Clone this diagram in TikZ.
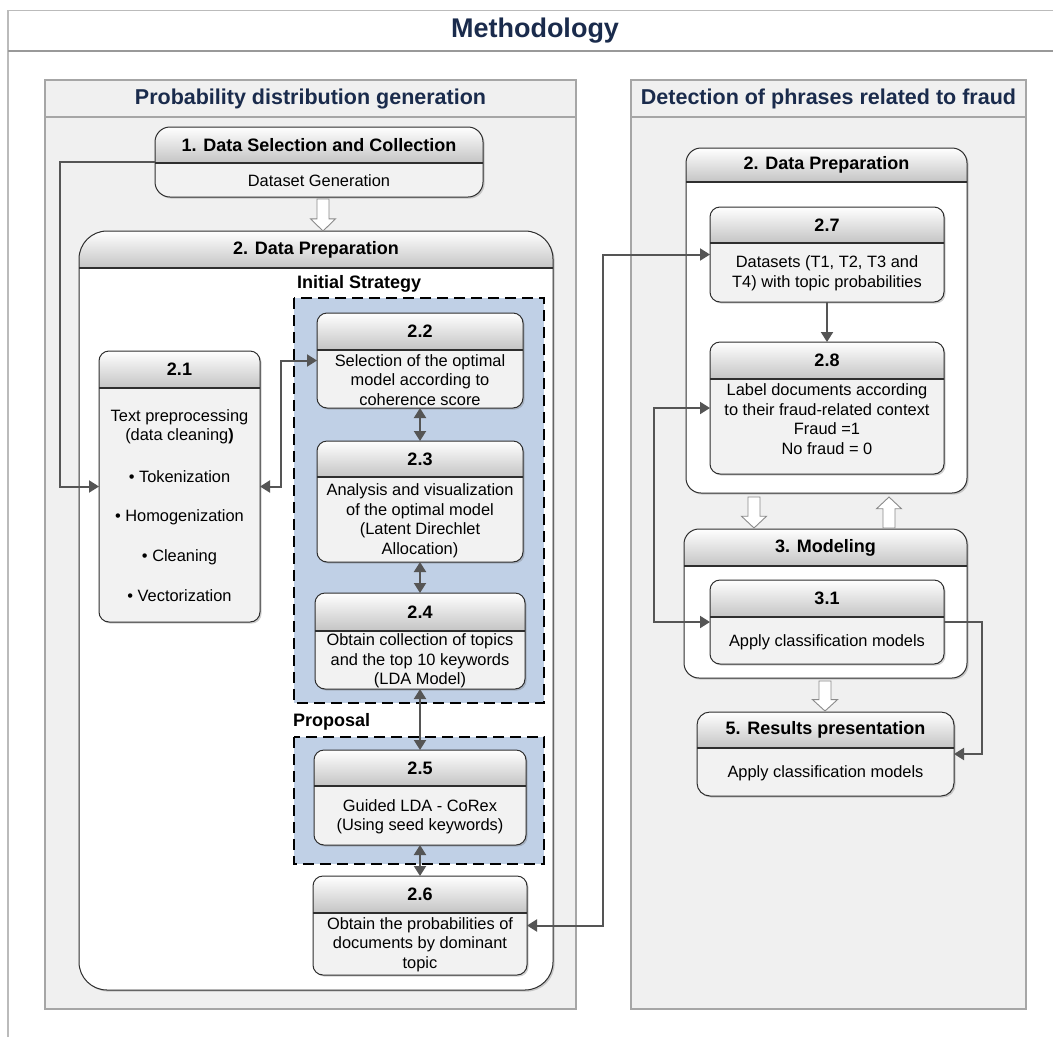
\documentclass[tikz,border=0pt]{standalone}
\usepackage{fontspec}
\setmainfont{Liberation Sans}
\usetikzlibrary{arrows.meta,shadows}
\definecolor{navy}{HTML}{1A2B4C}
\definecolor{panelbg}{HTML}{F0F0F0}
\definecolor{panelline}{HTML}{A6A6A6}
\definecolor{frameline}{HTML}{BBBBBB}
\definecolor{boxbody}{HTML}{F2F2F2}
\definecolor{boxline}{HTML}{2E2E2E}
\definecolor{hdrbot}{HTML}{C4C4C4}
\definecolor{stratblue}{HTML}{C0D0E6}
\definecolor{connc}{HTML}{555555}
\definecolor{blkline}{HTML}{8A8A8A}
\tikzset{
  bodytxt/.style={font=\fontsize{16.4}{19.5}\selectfont, align=center, inner sep=0pt},
  ttltxt/.style={font=\fontsize{18}{21}\selectfont\bfseries, inner sep=0pt},
  lbltxt/.style={font=\fontsize{18}{21}\selectfont\bfseries, inner sep=0pt, anchor=west},
  conn/.style={draw=connc, line width=2pt, -{Triangle[length=10pt,width=12pt]}},
  conntwo/.style={draw=connc, line width=2pt, {Triangle[length=10pt,width=12pt]}-{Triangle[length=10pt,width=12pt]}},
  blk/.style={draw=blkline, fill=white, line width=0.9pt, line join=miter},
  dashedregion/.style={draw=black, fill=stratblue, line width=1.8pt, dash pattern=on 11pt off 6pt},
  panel/.style={draw=panelline, fill=panelbg, line width=1.2pt},
  shd/.style={drop shadow={shadow xshift=1.6pt, shadow yshift=-1.6pt, opacity=0.3, fill=black!60}},
}
\newcommand\hbx[9]{%
  \node[shd, inner sep=0pt, outer sep=0pt, minimum width={(#4-#2)*1pt}, minimum height={(#5-#3)*1pt}, rounded corners=#7, fill=#8, draw=none] (#1) at ({(#2+#4)/2},{(#3+#5)/2}) {};
  \begin{scope}
    \clip[rounded corners=#7] (#2,#3) rectangle (#4,#5);
    \shade[top color=white, bottom color=hdrbot] (#2,#3) rectangle (#4,#6);
  \end{scope}
  \draw[boxline, line width=1pt, rounded corners=#7] (#2,#3) rectangle (#4,#5);
  \draw[boxline, line width=1.3pt] (#2,#6) -- (#4,#6);
  \node[ttltxt] (#1-t) at ({(#2+#4)/2},{(#3+#6)/2}) {#9};
}
\newcommand\blkarrow[3]{%
  \pgfmathsetmacro\bahpos{#2+(#3-#2)*0.62}%
  \draw[blk] ({#1-6},#2) -- ({#1+6},#2) -- ({#1+6},\bahpos) -- ({#1+12.5},\bahpos) -- (#1,#3) -- ({#1-12.5},\bahpos) -- ({#1-6},\bahpos) -- cycle;}
\begin{document}
\begin{tikzpicture}[x=1pt,y=-1pt]
\useasboundingbox (0,0) rectangle (1053,1037);
\fill[white] (0,0) rectangle (1053,1037);
% outer frame
\draw[frameline, line width=1.5pt] (8,1037) -- (8,10.5) -- (1053,10.5);
\draw[gray!80, line width=1.2pt] (8,51) -- (1053,51);
\node[font=\fontsize{27}{30}\selectfont\bfseries, text=navy, inner sep=0pt] (mtitle) at (535,31) {Methodology};
% panels
\draw[panel] (45,80) rectangle (576,1009);
\draw[panelline, line width=1.2pt] (45,117) -- (576,117);
\node[font=\fontsize{21.5}{24}\selectfont\bfseries, text=navy, inner sep=0pt] (ptitlea) at (310.5,99) {Probability distribution generation};
\draw[panel] (631,80) rectangle (1026,1009);
\draw[panelline, line width=1.2pt] (631,117) -- (1026,117);
\node[font=\fontsize{21.5}{24}\selectfont\bfseries, text=navy, inner sep=0pt] (ptitleb) at (828.5,99) {Detection of phrases related to fraud};
% containers
\hbx{b1}{155}{127}{483}{197}{163}{15pt}{boxbody}{1. Data Selection and Collection}
\hbx{dpl}{79}{231}{553}{990}{268}{28pt}{white}{2. Data Preparation}
\hbx{dpr}{686}{148}{967}{493}{182}{15pt}{white}{2. Data Preparation}
\hbx{mod}{684}{529}{967}{678}{566}{15pt}{white}{3. Modeling}
% strategy regions
\draw[dashedregion] (294,298) rectangle (544,703);
\draw[dashedregion] (294,737) rectangle (544,864);
\node[lbltxt] (lblinit) at (297,284) {Initial Strategy};
\node[lbltxt] (lblprop) at (293,722) {Proposal};
% boxes
\hbx{b21}{99}{351}{260}{622}{388}{10pt}{boxbody}{2.1}
\hbx{b22}{317}{313}{523}{408}{350}{10pt}{boxbody}{2.2}
\hbx{b23}{317}{441}{523}{562}{477}{10pt}{boxbody}{2.3}
\hbx{b24}{315}{593}{525}{689}{631}{10pt}{boxbody}{2.4}
\hbx{b25}{314}{750}{526}{845}{786}{10pt}{boxbody}{2.5}
\hbx{b26}{313}{876}{527}{975}{913}{10pt}{boxbody}{2.6}
\hbx{b27}{710}{207}{944}{302}{243}{10pt}{boxbody}{2.7}
\hbx{b28}{710}{342}{944}{474}{379}{10pt}{boxbody}{2.8}
\hbx{b31}{710}{580}{944}{664}{617}{10pt}{boxbody}{3.1}
\hbx{b5}{697}{712}{954}{796}{748}{13pt}{boxbody}{5. Results presentation}
% body texts
\node[bodytxt] (tb1) at (319,181) {Dataset Generation};
\node[bodytxt] (tb21a) at (179.5,427) {Text preprocessing\\(data cleaning\textbf{)}};
\node[bodytxt] (tb21b) at (179.5,477) {• Tokenization};
\node[bodytxt] (tb21c) at (179.5,517) {• Homogenization};
\node[bodytxt] (tb21d) at (179.5,557) {• Cleaning};
\node[bodytxt] (tb21e) at (179.5,596) {• Vectorization};
\node[bodytxt] (tb22) at (420,380) {Selection of the optimal\\model according to\\coherence score};
\node[bodytxt] (tb23) at (420,520.5) {Analysis and visualization\\of the optimal model\\(Latent Direchlet\\Allocation)};
\node[bodytxt] (tb24) at (420,661) {Obtain collection of topics\\and the top 10 keywords\\(LDA Model)};
\node[bodytxt] (tb25) at (420,816.5) {Guided LDA - CoRex\\(Using seed keywords)};
\node[bodytxt] (tb26) at (420,944.5) {Obtain the probabilities of\\documents by dominant\\topic};
\node[bodytxt] (tb27) at (827,273.5) {Datasets (T1, T2, T3 and\\T4) with topic probabilities};
\node[bodytxt] (tb28) at (827,419) {Label documents according\\to their fraud-related context\\Fraud =1\\No fraud = 0};
\node[bodytxt] (tb31) at (827,642) {Apply classification models};
\node[bodytxt] (tb5) at (825.5,773.5) {Apply classification models};
% block arrows
\blkarrow{323}{199}{231}
\blkarrow{754}{497}{528}
\blkarrow{889}{528}{497}
\blkarrow{825}{681}{711}
% connectors
\draw[conn] (b1.west) -- ++(-95,0) |- (b21.west);
\draw[conntwo] (b21.east) -- ++(21,0) |- (b22.west);
\draw[conntwo] (b22.south) -- (b23.north);
\draw[conntwo] (b23.south) -- (b24.north);
\draw[conntwo] (b24.south) -- (b25.north);
\draw[conntwo] (b25.south) -- (b26.north);
\draw[conntwo] (b26.east) -- ++(76,0) |- (b27.west);
\draw[conn] (b27.south) -- (b28.north);
\draw[conntwo] (b28.west) -- ++(-56,0) |- (b31.west);
\draw[conn] (b31.east) -- ++(38,0) |- (b5.east);
\end{tikzpicture}
\end{document}
